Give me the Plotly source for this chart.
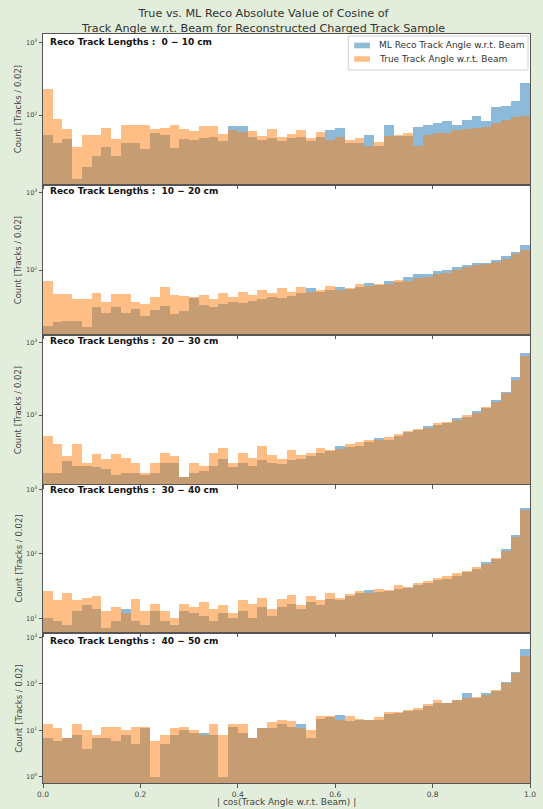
import plotly.graph_objects as go

# ---------------------------------------------------------------------------
# Histogram contents: |cos(track angle w.r.t. beam)|, 50 bins of width 0.02,
# one pair of series per reconstructed track-length slice.
# ---------------------------------------------------------------------------
bin_width = 0.02
n_bins = 50
bin_centers = [round((i + 0.5) * bin_width, 3) for i in range(n_bins)]

length_slices = ["0 \u2212 10 cm", "10 \u2212 20 cm", "20 \u2212 30 cm",
                 "30 \u2212 40 cm", "40 \u2212 50 cm"]

ml_reco_0_10 = [53, 41, 47, 13, 19, 27, 36, 27, 41, 41, 34, 57, 53, 35, 47, 45, 48, 50, 44, 70,
                72, 50, 45, 48, 44, 48, 50, 44, 50, 62, 66, 41, 41, 53, 38, 73, 51, 51, 68, 73,
                78, 83, 73, 85, 97, 83, 129, 133, 156, 277]
true_0_10 = [229, 88, 64, 36, 53, 53, 66, 47, 73, 73, 73, 64, 66, 73, 64, 60, 70, 72, 55, 62,
             58, 60, 52, 65, 50, 55, 62, 48, 58, 45, 50, 45, 48, 38, 42, 51, 53, 56, 38, 53,
             56, 56, 62, 64, 66, 68, 78, 85, 94, 97]

ml_reco_10_20 = [19, 21, 22, 22, 18, 33, 28, 33, 28, 31, 25, 30, 34, 27, 29, 43, 35, 33, 36, 38,
                 37, 40, 42, 45, 44, 46, 50, 58, 52, 55, 60, 56, 60, 68, 64, 72, 70, 80, 88, 90,
                 98, 100, 110, 115, 125, 125, 135, 150, 170, 210]
true_10_20 = [71, 49, 49, 42, 42, 51, 39, 49, 49, 38, 36, 45, 60, 47, 46, 45, 48, 42, 50, 45,
              52, 47, 55, 50, 58, 52, 60, 52, 55, 62, 55, 58, 65, 62, 66, 66, 75, 72, 78, 82,
              88, 92, 100, 108, 115, 118, 128, 140, 160, 180]

ml_reco_20_30 = [16, 16, 23, 20, 20, 19, 18, 15, 16, 16, 15, 16, 22, 22, 14, 16, 17, 20, 25, 19,
                 22, 20, 24, 22, 21, 24, 25, 27, 30, 32, 38, 36, 38, 43, 48, 46, 52, 58, 62, 70,
                 72, 78, 90, 95, 115, 125, 160, 210, 330, 720]
true_20_30 = [51, 40, 27, 40, 22, 29, 25, 29, 26, 22, 16, 22, 30, 27, 14, 22, 20, 30, 35, 22,
              30, 26, 38, 28, 25, 33, 28, 30, 35, 33, 34, 40, 42, 45, 45, 50, 55, 60, 65, 66,
              78, 80, 85, 100, 108, 130, 150, 200, 300, 650]

ml_reco_30_40 = [10, 9, 8, 13, 16, 14, 7, 9, 14, 9, 8, 13, 9, 8, 13, 12, 11, 9, 12, 10,
                 13, 10, 15, 11, 15, 17, 14, 18, 16, 20, 19, 22, 25, 28, 26, 27, 29, 30, 33, 36,
                 40, 41, 46, 53, 58, 75, 85, 120, 200, 520]
true_30_40 = [27, 19, 25, 19, 21, 22, 13, 15, 12, 20, 13, 17, 13, 10, 17, 15, 18, 14, 16, 12,
              19, 17, 21, 14, 20, 23, 16, 22, 19, 25, 21, 24, 27, 25, 29, 28, 33, 31, 36, 38,
              42, 45, 50, 55, 62, 70, 88, 110, 185, 480]

ml_reco_40_50 = [7, 6, 7, 8, 4, 7, 7, 6, 8, 5, 11, 1, 5, 8, 10, 9, 9, 8, 1, 12,
                 9, 7, 11, 11, 14, 12, 14, 7, 18, 19, 21, 16, 17, 17, 17, 23, 24, 26, 28, 33,
                 38, 38, 45, 62, 49, 62, 71, 111, 182, 552]
true_40_50 = [14, 11, 7, 14, 10, 8, 12, 12, 10, 12, 12, 6, 8, 11, 12, 10, 8, 14, 8, 14,
              14, 7, 11, 15, 17, 16, 11, 10, 20, 20, 17, 20, 18, 17, 19, 25, 25, 27, 31, 36,
              45, 39, 45, 49, 51, 57, 72, 105, 168, 396]

ml_reco_counts = [ml_reco_0_10, ml_reco_10_20, ml_reco_20_30, ml_reco_30_40, ml_reco_40_50]
true_counts = [true_0_10, true_10_20, true_20_30, true_30_40, true_40_50]

# log10 y-limits of each panel
y_log_ranges = [(1.05, 3.12), (1.17, 3.09), (1.05, 3.09), (0.79, 3.07), (-0.13, 3.07)]
x_ticks = [0.0, 0.2, 0.4, 0.6, 0.8, 1.0]

ml_name = "ML Reco Track Angle w.r.t. Beam"
true_name = "True Track Angle w.r.t. Beam"
ml_color = "#1f77b4"
true_color = "#ff7f0e"

# ---------------------------------------------------------------------------
# Layout geometry (pixels)
# ---------------------------------------------------------------------------
W, H = 543, 809
M_L, M_R, M_T, M_B = 43, 7, 34, 26
plot_h = H - M_T - M_B
plot_w = W - M_L - M_R
panel_px = [(34, 184), (186, 334), (336, 484), (485, 632), (634, 783)]
label_px = [42, 191, 341, 490, 641]


def py(y_px):
    return (H - M_B - y_px) / plot_h


def px(x_px):
    return (x_px - M_L) / plot_w


FONT = "DejaVu Sans"
TICK_COLOR = "#444444"

fig = go.Figure()
layout = dict(
    width=W, height=H,
    margin=dict(l=M_L, r=M_R, t=M_T, b=M_B, pad=0),
    paper_bgcolor="#e2eedb",
    plot_bgcolor="white",
    barmode="overlay",
    bargap=0,
    showlegend=False,
    font=dict(family=FONT, color=TICK_COLOR, size=7),
)

annotations = []
for i in range(5):
    n = i + 1
    xa = "x" if n == 1 else f"x{n}"
    ya = "y" if n == 1 else f"y{n}"
    top, bot = panel_px[i]

    fig.add_trace(go.Bar(
        x=bin_centers, y=ml_reco_counts[i], width=bin_width,
        marker=dict(color=ml_color, line=dict(width=0)), opacity=0.5,
        name=ml_name, xaxis=xa, yaxis=ya,
    ))
    fig.add_trace(go.Bar(
        x=bin_centers, y=true_counts[i], width=bin_width,
        marker=dict(color=true_color, line=dict(width=0)), opacity=0.5,
        name=true_name, xaxis=xa, yaxis=ya,
    ))

    lo, hi = y_log_ranges[i]
    decades = [d for d in range(-1, 5) if lo <= d <= hi]
    layout["xaxis" if n == 1 else f"xaxis{n}"] = dict(
        domain=[0, 1], anchor=ya, range=[0, 1],
        showline=True, mirror=True, linecolor="#555555", linewidth=1,
        ticks="outside", ticklen=3.5, tickcolor="#555555",
        tickvals=x_ticks, ticktext=[f"{t:.1f}" for t in x_ticks],
        showticklabels=(n == 5), showgrid=False, zeroline=False,
        tickfont=dict(size=7.5, color=TICK_COLOR),
        matches=None if n == 1 else "x",
    )
    layout["yaxis" if n == 1 else f"yaxis{n}"] = dict(
        domain=[py(bot), py(top)], anchor=xa, type="log", range=[lo, hi],
        showline=True, mirror=True, linecolor="#555555", linewidth=1,
        ticks="outside", ticklen=3.5, tickcolor="#555555",
        tickvals=[10 ** d for d in decades],
        ticktext=[f"10<sup>{d}</sup>" for d in decades],
        tickfont=dict(size=6.5, color=TICK_COLOR),
        showgrid=False, zeroline=False,
    )

    # y-axis title
    annotations.append(dict(
        text="Count [Tracks / 0.02]", xref="paper", yref="paper",
        x=px(18), y=py((top + bot) / 2), textangle=-90,
        xanchor="center", yanchor="middle", showarrow=False,
        font=dict(family=FONT, size=8.5, color=TICK_COLOR),
    ))
    # track-length slice label
    annotations.append(dict(
        text=f"<b>Reco Track Lengths :  {length_slices[i]}</b>",
        xref="paper", yref="paper", x=px(48), y=py(label_px[i]),
        xanchor="left", yanchor="middle", showarrow=False,
        font=dict(family=FONT, size=9, color="#111111"),
    ))

# legend box in the top panel
shapes = [dict(
    type="rect", xref="paper", yref="paper",
    x0=px(352), x1=px(534), y0=py(70), y1=py(36),
    fillcolor="rgba(255,255,255,0.85)", line=dict(color="#d0d0d0", width=1),
    layer="above",
)]
legend_rows = [(ml_name, ml_color, 45.5), (true_name, true_color, 59.0)]
for name, color, yc in legend_rows:
    shapes.append(dict(
        type="rect", xref="paper", yref="paper",
        x0=px(358), x1=px(374), y0=py(yc + 2.8), y1=py(yc - 2.8),
        fillcolor=color, opacity=0.5, line=dict(width=0), layer="above",
    ))
    annotations.append(dict(
        text=name, xref="paper", yref="paper", x=px(381), y=py(yc),
        xanchor="left", yanchor="middle", showarrow=False,
        font=dict(family=FONT, size=9, color="#333333"),
    ))

# figure title (two lines) and x-axis title
annotations.append(dict(
    text=("True vs. ML Reco Absolute Value of Cosine of<br>"
          "Track Angle w.r.t. Beam for Reconstructed Charged Track Sample"),
    xref="paper", yref="paper",
    x=px(266), y=py(21), xanchor="center", yanchor="middle", showarrow=False,
    font=dict(family=FONT, size=11.2, color="#333333"),
))
annotations.append(dict(
    text="| cos(Track Angle w.r.t. Beam) |", xref="paper", yref="paper",
    x=px(290), y=py(802), xanchor="center", yanchor="middle", showarrow=False,
    font=dict(family=FONT, size=9, color=TICK_COLOR),
))

layout["annotations"] = annotations
layout["shapes"] = shapes
fig.update_layout(**layout)
fig.write_html("out.html")
